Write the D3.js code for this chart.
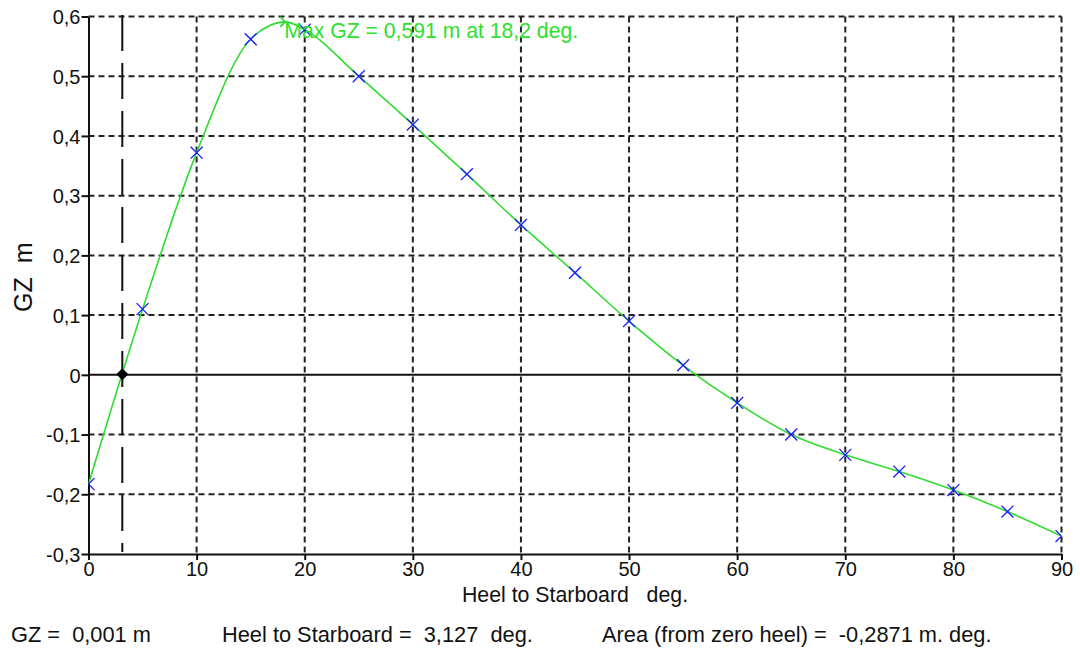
<!DOCTYPE html>
<html>
<head>
<meta charset="utf-8">
<script src="https://cdn.jsdelivr.net/npm/d3@7.9.0/dist/d3.min.js"></script>
<style>
  html, body { margin: 0; padding: 0; background: #fff; }
  svg { display: block; font-family: "Liberation Sans", Arial, sans-serif; }
  text { white-space: pre; }
</style>
</head>
<body>
<svg id="chart" width="1080" height="648"></svg>
<script>
// GZ curve data (heel in degrees, GZ in metres)
const heelAngles = [0, 5, 10, 15, 20, 25, 30, 35, 40, 45, 50, 55, 60, 65, 70, 75, 80, 85, 90];
const gzValues = [-0.183, 0.110, 0.372, 0.562, 0.578, 0.500, 0.419, 0.336, 0.251, 0.171,
                  0.090, 0.016, -0.047, -0.100, -0.134, -0.162, -0.193, -0.229, -0.270];

// max GZ point and the selected point (zero crossing)
const maxHeel = 18.2, maxGZ = 0.591;
const cursorHeel = 3.127, cursorGZ = 0.001;

const xTicks = [0, 10, 20, 30, 40, 50, 60, 70, 80, 90];
const yTicks = [-0.3, -0.2, -0.1, 0, 0.1, 0.2, 0.3, 0.4, 0.5, 0.6];

const maxLabel = "Max GZ = 0,591 m at 18,2 deg.";
const xTitle = "Heel to Starboard   deg.";
const yTitle = "GZ  m";
const footer = ["GZ =  0,001 m", "Heel to Starboard =  3,127  deg.", "Area (from zero heel) =  -0,2871 m. deg."];

const svg = d3.select("#chart");
const x = d3.scaleLinear().domain([0, 90]).range([88.5, 1061.5]);
const y = d3.scaleLinear().domain([-0.3, 0.6]).range([554, 16.5]);

const loc = d3.formatLocale({ decimal: ",", thousands: ".", grouping: [3], currency: ["", ""], minus: "-" });
const fmt = loc.format(".1~f");

svg.append("rect").attr("width", 1080).attr("height", 648).attr("fill", "#fff");

// clip for the plot area
svg.append("clipPath").attr("id", "plot-clip")
  .append("rect")
  .attr("x", x(0)).attr("y", y(0.6))
  .attr("width", x(90) - x(0)).attr("height", y(-0.3) - y(0.6));

// dashed grid
const grid = svg.append("g").attr("stroke", "#222").attr("stroke-width", 2).attr("stroke-dasharray", "6,4");
grid.selectAll(".vgrid").data(xTicks.filter(d => d !== 0)).join("line")
  .attr("x1", d => x(d)).attr("x2", d => x(d))
  .attr("y1", y(0.6)).attr("y2", y(-0.3));
grid.selectAll(".hgrid").data(yTicks.filter(d => d !== 0 && d !== -0.3)).join("line")
  .attr("x1", x(0)).attr("x2", x(90))
  .attr("y1", d => y(d)).attr("y2", d => y(d));

// zero line
svg.append("line")
  .attr("x1", x(0)).attr("x2", x(90))
  .attr("y1", y(0)).attr("y2", y(0))
  .attr("stroke", "#111").attr("stroke-width", 2);

// vertical long-dash cursor line
svg.append("line")
  .attr("x1", x(cursorHeel)).attr("x2", x(cursorHeel))
  .attr("y1", y(0.6) - 1.5).attr("y2", y(-0.3) - 2)
  .attr("stroke", "#111").attr("stroke-width", 2)
  .attr("stroke-dasharray", "36,12");

// axes
const xAxis = d3.axisBottom(x).tickValues(xTicks).tickFormat(d3.format("d"))
  .tickSize(6).tickSizeOuter(0).tickPadding(2);
const yAxis = d3.axisLeft(y).tickValues(yTicks).tickFormat(fmt)
  .tickSize(7).tickSizeOuter(0).tickPadding(1);

const gx = svg.append("g").attr("transform", `translate(0,${y(-0.3)})`).call(xAxis);
const gy = svg.append("g").attr("transform", `translate(${x(0)},0)`).call(yAxis);

[gx, gy].forEach(g => {
  g.select(".domain").attr("stroke", "#111").attr("stroke-width", 2);
  g.selectAll(".tick line").attr("stroke", "#111").attr("stroke-width", 2);
  g.selectAll(".tick text").attr("fill", "#111").attr("font-size", 20)
    .attr("font-family", "'Liberation Sans', Arial, sans-serif");
});
gy.selectAll(".tick text").attr("dy", "0.36em");

// GZ curve, through the points plus the max
const curvePts = heelAngles.map((h, i) => [h, gzValues[i]]);
curvePts.splice(4, 0, [maxHeel, maxGZ]);
const line = d3.line().x(d => x(d[0])).y(d => y(d[1])).curve(d3.curveMonotoneX);

const plot = svg.append("g").attr("clip-path", "url(#plot-clip)");
plot.append("path")
  .datum(curvePts)
  .attr("d", line)
  .attr("fill", "none")
  .attr("stroke", "#2fdc2f")
  .attr("stroke-width", 1.6);

// blue crosses at each data point
const cross = d3.symbol().type(d3.symbolX).size(95);
plot.selectAll(".pt").data(heelAngles).join("path")
  .attr("d", cross)
  .attr("transform", (d, i) => `translate(${x(d)},${y(gzValues[i])})`)
  .attr("fill", "none")
  .attr("stroke", "#1a1aff")
  .attr("stroke-width", 1.3);

// max marker
const mx = x(maxHeel), my = y(maxGZ);
svg.append("path")
  .attr("d", `M${mx - 5},${my - 5}L${mx},${my}L${mx - 5},${my + 5}`)
  .attr("fill", "none").attr("stroke", "#2fdc2f").attr("stroke-width", 1.6);

svg.append("text")
  .attr("x", mx - 1).attr("y", 38)
  .attr("fill", "#2ee02e").attr("font-size", 21.2)
  .text(maxLabel);

// cursor point
svg.append("path")
  .attr("d", d3.symbol().type(d3.symbolSquare).size(72))
  .attr("transform", `translate(${x(cursorHeel)},${y(cursorGZ)}) rotate(45)`)
  .attr("fill", "#000");

// titles
svg.append("text")
  .attr("x", (x(0) + x(90)) / 2).attr("y", 602)
  .attr("text-anchor", "middle").attr("font-size", 21.3).attr("fill", "#111")
  .text(xTitle);

svg.append("text")
  .attr("transform", `translate(32,${(y(0.6) + y(-0.3)) / 2 - 8}) rotate(-90)`)
  .attr("text-anchor", "middle").attr("font-size", 25).attr("fill", "#111")
  .text(yTitle);

// footer readout
const footerX = [11, 222, 602];
svg.selectAll(".foot").data(footer).join("text")
  .attr("x", (d, i) => footerX[i]).attr("y", 642)
  .attr("font-size", 21.8).attr("fill", "#111")
  .text(d => d);
</script>
</body>
</html>
